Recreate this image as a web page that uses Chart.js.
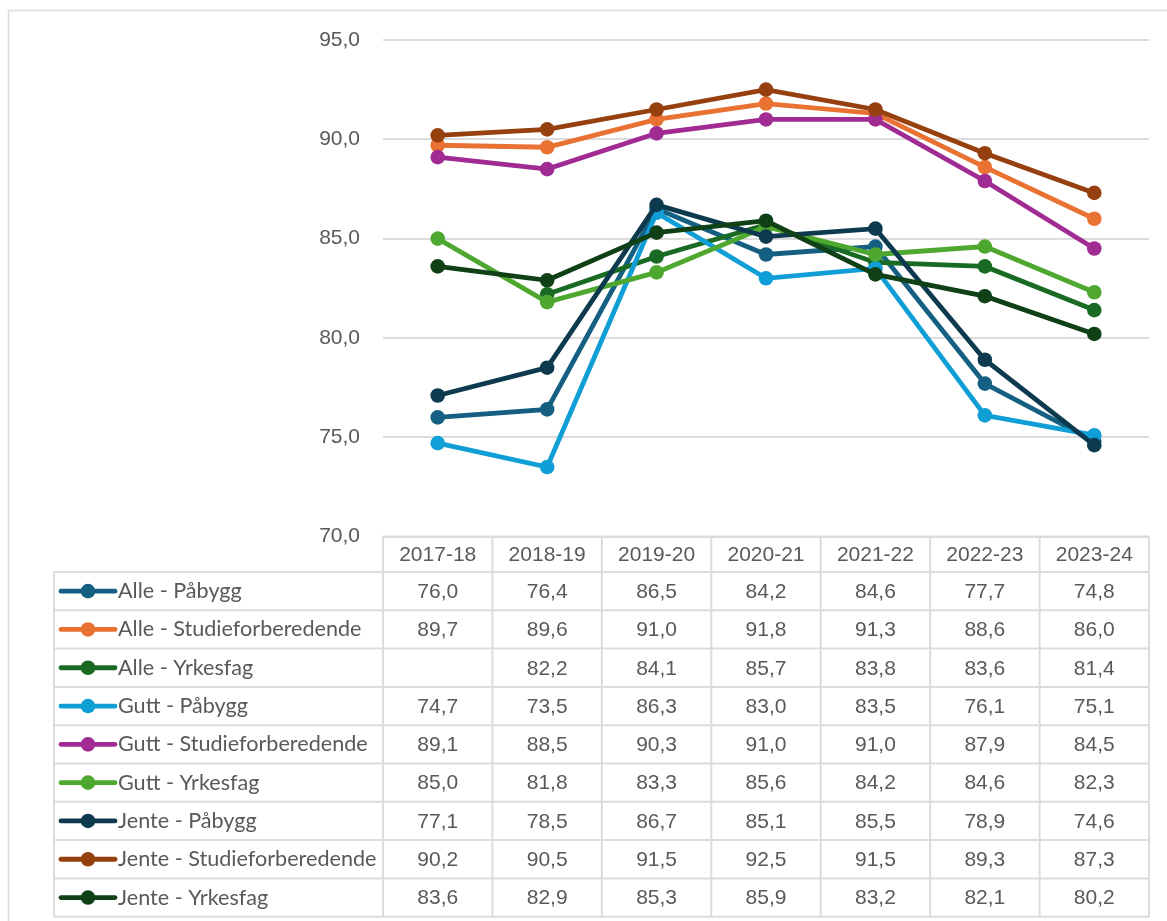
<!DOCTYPE html>
<html>
<head>
<meta charset="utf-8">
<script src="https://cdn.jsdelivr.net/npm/chart.js@4.4.1/dist/chart.umd.min.js"></script>
<style>
html,body{margin:0;padding:0;background:#fff;}
#wrap{width:1167px;height:921px;position:relative;}
</style>
</head>
<body>
<div id="wrap"><canvas id="c" width="1167" height="921"></canvas></div>
<script>
const categories = ["2017-18","2018-19","2019-20","2020-21","2021-22","2022-23","2023-24"];
const seriesNames = ["Alle - Påbygg","Alle - Studieforberedende","Alle - Yrkesfag","Gutt - Påbygg","Gutt - Studieforberedende","Gutt - Yrkesfag","Jente - Påbygg","Jente - Studieforberedende","Jente - Yrkesfag"];
const allePabygg = [76.0,76.4,86.5,84.2,84.6,77.7,74.8];
const alleStudie = [89.7,89.6,91.0,91.8,91.3,88.6,86.0];
const alleYrkes = [null,82.2,84.1,85.7,83.8,83.6,81.4];
const guttPabygg = [74.7,73.5,86.3,83.0,83.5,76.1,75.1];
const guttStudie = [89.1,88.5,90.3,91.0,91.0,87.9,84.5];
const guttYrkes = [85.0,81.8,83.3,85.6,84.2,84.6,82.3];
const jentePabygg = [77.1,78.5,86.7,85.1,85.5,78.9,74.6];
const jenteStudie = [90.2,90.5,91.5,92.5,91.5,89.3,87.3];
const jenteYrkes = [83.6,82.9,85.3,85.9,83.2,82.1,80.2];
const yTicks = [70,75,80,85,90,95];

const seriesValues = [allePabygg,alleStudie,alleYrkes,guttPabygg,guttStudie,guttYrkes,jentePabygg,jenteStudie,jenteYrkes];
const colors = ["#156082","#E97132","#196B24","#0F9ED5","#A02B93","#4EA72E","#0D3A4E","#96400F","#0F4016"];

const fmt = v => (v === null || v === undefined) ? "" : v.toFixed(1).replace('.', ',');

const datasets = seriesValues.map((vals,i)=>({
  label: seriesNames[i],
  data: vals,
  borderColor: colors[i],
  backgroundColor: colors[i],
  pointBackgroundColor: colors[i],
  pointBorderColor: colors[i],
  borderWidth: 4.8,
  pointRadius: 7.3,
  pointHoverRadius: 7.3,
  pointBorderWidth: 0,
  tension: 0,
  spanGaps: false,
  order: seriesValues.length - 1 - i
}));

const GRID = "#dcdcdc";
const TXT = "#595959";
const NUMFONT = "21px 'Liberation Sans', Arial, sans-serif";
const LEGFONT = "21.6px Lato, 'Noto Sans', sans-serif";

const tablePlugin = {
  id: 'tablePlugin',
  afterDraw(chart){
    const ctx = chart.ctx;
    const ca = chart.chartArea;
    const xs = chart.scales.x;
    const n = categories.length;
    const w = (ca.right - ca.left) / n;
    const top = ca.bottom;
    const headH = 35.5;
    const rowH = 38.3;
    const legLeft = 54;
    const bottom = top + headH + rowH * seriesNames.length;
    ctx.save();
    ctx.strokeStyle = GRID;
    ctx.lineWidth = 1.5;
    ctx.beginPath();
    ctx.moveTo(8.5, 921); ctx.lineTo(8.5, 10.5); ctx.lineTo(1167, 10.5);
    ctx.stroke();
    ctx.lineWidth = 2;
    ctx.beginPath();
    ctx.moveTo(ca.left, top); ctx.lineTo(ca.right, top);
    for (let r = 0; r <= seriesNames.length; r++) {
      const y = top + headH + r * rowH;
      ctx.moveTo(legLeft, y); ctx.lineTo(ca.right, y);
    }
    for (let i = 0; i <= n; i++) {
      const x = ca.left + i * w;
      ctx.moveTo(x, top); ctx.lineTo(x, bottom);
    }
    ctx.moveTo(legLeft, top + headH); ctx.lineTo(legLeft, bottom);
    ctx.stroke();
    ctx.fillStyle = TXT;
    ctx.font = NUMFONT;
    ctx.textAlign = 'center';
    ctx.textBaseline = 'middle';
    categories.forEach((c, i) => {
      ctx.fillText(c, xs.getPixelForValue(i), top + headH / 2 + 1);
    });
    seriesNames.forEach((name, r) => {
      const yc = top + headH + r * rowH + rowH / 2;
      ctx.font = NUMFONT;
      ctx.textAlign = 'center';
      ctx.fillStyle = TXT;
      seriesValues[r].forEach((v, i) => {
        ctx.fillText(fmt(v), xs.getPixelForValue(i), yc + 1);
      });
      ctx.strokeStyle = colors[r];
      ctx.lineWidth = 4.8;
      ctx.lineCap = 'round';
      ctx.beginPath();
      ctx.moveTo(61, yc); ctx.lineTo(115, yc);
      ctx.stroke();
      ctx.fillStyle = colors[r];
      ctx.beginPath();
      ctx.arc(88, yc, 7.3, 0, Math.PI * 2);
      ctx.fill();
      ctx.fillStyle = TXT;
      ctx.font = LEGFONT;
      ctx.textAlign = 'left';
      ctx.fillText(name, 118, yc);
    });
    ctx.restore();
  }
};

new Chart(document.getElementById('c'), {
  type: 'line',
  data: { labels: categories, datasets },
  options: {
    responsive: false,
    animation: false,
    devicePixelRatio: 1,
    layout: { padding: { left: 0, right: 18, top: 40, bottom: 921 - 536.5 } },
    plugins: { legend: { display: false }, tooltip: { enabled: false } },
    scales: {
      x: {
        type: 'category',
        offset: true,
        display: false
      },
      y: {
        min: 70, max: 95,
        afterBuildTicks(s){ s.ticks = yTicks.map(v => ({ value: v })); },
        afterFit(s){ s.width = 383; },
        border: { display: false },
        grid: { color: GRID, lineWidth: 2, drawTicks: false },
        ticks: {
          padding: 23,
          color: TXT,
          font: { family: "'Liberation Sans', Arial, sans-serif", size: 21 },
          callback: v => v.toFixed(1).replace('.', ',')
        }
      }
    }
  },
  plugins: [tablePlugin]
});
</script>
</body>
</html>
